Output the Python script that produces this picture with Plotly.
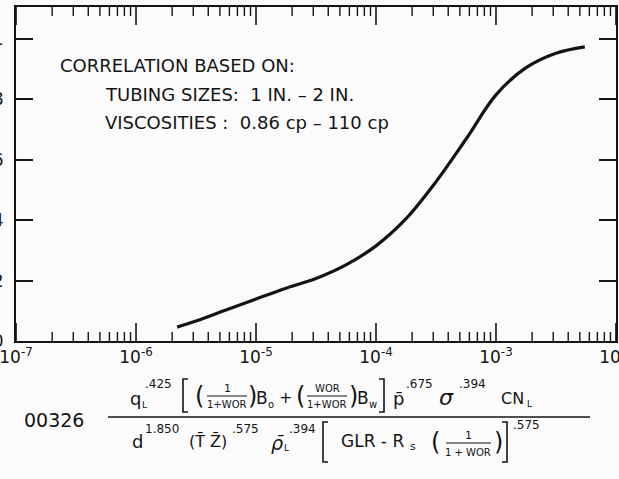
import plotly.graph_objects as go

# ---------------- data ----------------
x_group = [2.2e-6, 3.16e-6, 5.62e-6, 1.0e-5, 1.78e-5, 3.16e-5, 5.62e-5, 1.0e-4,
           1.78e-4, 3.16e-4, 5.62e-4, 1.0e-3, 1.78e-3, 3.16e-3, 5.5e-3]
y_holdup = [0.046, 0.066, 0.103, 0.139, 0.175, 0.207, 0.252, 0.315,
            0.405, 0.527, 0.668, 0.815, 0.905, 0.953, 0.974]

x_major = [1e-7, 1e-6, 1e-5, 1e-4, 1e-3, 1e-2]
x_major_text = ["10<sup>-7</sup>", "10<sup>-6</sup>", "10<sup>-5</sup>",
                "10<sup>-4</sup>", "10<sup>-3</sup>", "10<sup>-2</sup>"]
x_minor = [k * 10.0 ** e for e in range(-7, -2) for k in range(2, 10)]
y_ticks = [0, 0.2, 0.4, 0.6, 0.8, 1.0]
y_tick_text = ["0", ".2", ".4", ".6", ".8", "1"]

note_lines = ["CORRELATION BASED ON:",
              "TUBING SIZES:  1 IN. \u2013 2 IN.",
              "VISCOSITIES :  0.86 cp \u2013 110 cp"]

# ---------------- style ----------------
FONT = "DejaVu Sans"
INK = "#141414"
BG = "#fbfbfb"
W, H = 619, 479
ML, MR, MT, MB = 16, 3, 7, 138
PW, PH = W - ML - MR, H - MT - MB
XR = [-7.0003, -1.9997]
MAJOR_LEN, MINOR_LEN = 18, 9


def px(x):
    return (x - ML) / PW


def py(y):
    return (H - MB - y) / PH


anns = []
shapes = []


def t(x, y, s, size=16, xa="center", italic=False):
    anns.append(dict(x=px(x), y=py(y), xref="paper", yref="paper", text=s,
                     showarrow=False, xanchor=xa, yanchor="middle",
                     font=dict(size=size, family=FONT, color=INK,
                               style="italic" if italic else "normal")))


def bar(x0, x1, y, w=1.4):
    shapes.append(dict(type="line", xref="paper", yref="paper",
                       x0=px(x0), x1=px(x1), y0=py(y), y1=py(y),
                       line=dict(color=INK, width=w)))


def bracket(x, y0, y1, side, arm=5):
    d = arm if side == "l" else -arm
    path = (f"M {px(x + d)},{py(y0)} L {px(x)},{py(y0)} "
            f"L {px(x)},{py(y1)} L {px(x + d)},{py(y1)}")
    shapes.append(dict(type="path", xref="paper", yref="paper", path=path,
                       line=dict(color=INK, width=1.6)))


def xtick(v, length, w):
    # tick marks on the log x axis, placed through the axis' own scale
    frac = length / PH
    for y0, y1 in ((0, frac), (1, 1 - frac)):
        shapes.append(dict(type="line", xref="x", yref="paper", x0=v, x1=v,
                           y0=y0, y1=y1, line=dict(color=INK, width=w)))


for v in x_major:
    xtick(v, MAJOR_LEN, 1.6)
for v in x_minor:
    xtick(v, MINOR_LEN, 1.4)

fig = go.Figure()
fig.add_trace(go.Scatter(x=x_group, y=y_holdup, mode="lines",
                         line=dict(color=INK, width=3.2, shape="spline", smoothing=1.0),
                         hoverinfo="skip", showlegend=False))

# note text
t(58, 65, note_lines[0], 18, "left")
t(103, 95, note_lines[1], 18, "left")
t(103, 123, note_lines[2], 18, "left")

# ---- formula ----
t(54, 420, "00326", 19)
bar(108, 590, 417, 1.5)
# numerator
t(135, 398, "q", 18)
t(144, 405, "L", 9)
t(158, 384, ".425", 12)
bracket(183, 379, 412, "l")
t(199, 396, "(", 24)
t(227, 388, "1", 11)
bar(207, 247, 396, 1.0)
t(227, 404, "1+WOR", 10)
t(252, 396, ")", 24)
t(262, 398, "B", 17)
t(271, 404, "o", 10)
t(285, 397, "+", 16)
t(300, 396, "(", 24)
t(327, 388, "WOR", 10)
bar(307, 347, 396, 1.0)
t(327, 404, "1+WOR", 10)
t(353, 396, ")", 24)
t(363, 398, "B", 17)
t(373, 404, "w", 10)
bracket(384, 379, 412, "r")
t(398, 398, "p\u0304", 18)
t(419, 384, ".675", 12)
t(446, 397, "\u03c3", 22, italic=True)
t(472, 384, ".394", 12)
t(512, 398, "CN", 16)
t(529, 404, "L", 9)
# denominator
t(137, 441, "d", 18)
t(162, 429, "1.850", 12)
t(208, 441, "(T\u0304 Z\u0304)", 16)
t(245, 429, ".575", 12)
t(277, 443, "\u03c1\u0304", 19, italic=True)
t(286, 448, "L", 9)
t(302, 429, ".394", 12)
bracket(323, 422, 462, "l")
t(372, 441, "GLR - R", 17)
t(413, 446, "s", 11)
t(435, 442, "(", 24)
t(468, 435, "1", 11)
bar(446, 491, 443, 1.0)
t(468, 452, "1 + WOR", 10)
t(498, 442, ")", 24)
bracket(507, 422, 462, "r")
t(526, 425, ".575", 12)

fig.update_layout(
    width=W, height=H,
    margin=dict(l=ML, r=MR, t=MT, b=MB, autoexpand=False),
    paper_bgcolor=BG, plot_bgcolor=BG,
    font=dict(family=FONT, color=INK),
    annotations=anns, shapes=shapes,
    xaxis=dict(type="log", range=XR, tickmode="array", tickvals=x_major,
               ticktext=x_major_text, ticks="", showline=True, linecolor=INK,
               linewidth=2, mirror=True, showgrid=False, zeroline=False,
               automargin=False, ticklabeloverflow="allow",
               tickfont=dict(size=17, family=FONT, color=INK)),
    yaxis=dict(range=[0, 1.106], tickmode="array", tickvals=y_ticks,
               ticktext=y_tick_text, ticks="inside", ticklen=17, tickwidth=1.6,
               tickcolor=INK, showline=True, linecolor=INK, linewidth=2,
               mirror="ticks", showgrid=False, zeroline=False, automargin=False,
               ticklabelstandoff=7, ticklabeloverflow="allow",
               tickfont=dict(size=17, family=FONT, color=INK)),
)

fig.write_html("out.html")
